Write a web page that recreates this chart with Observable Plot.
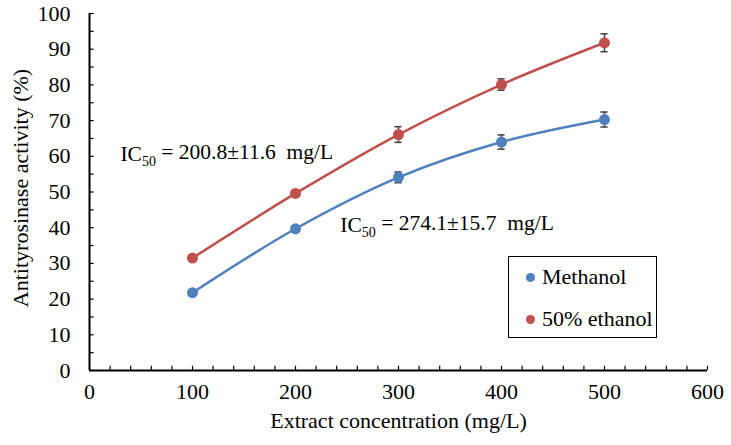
<!DOCTYPE html>
<html>
<head>
<meta charset="utf-8">
<script src="https://cdn.jsdelivr.net/npm/d3@7"></script>
<script src="https://cdn.jsdelivr.net/npm/@observablehq/plot@0.6"></script>
<style>
  html, body { margin: 0; padding: 0; background: #fff; }
  #wrap { position: relative; width: 731px; height: 445px; font-family: "Liberation Serif", "Times New Roman", serif; }
  #wrap svg text { font-family: "Liberation Serif", "Times New Roman", serif; }
  #legend { position: absolute; left: 508px; top: 256px; width: 149px; height: 82px; border: 1px solid #000; background: #fff; box-sizing: border-box; }
  .row { position: absolute; left: 17px; height: 24px; display: flex; align-items: center; font-size: 22px; color: #000; white-space: nowrap; font-family: "Liberation Serif", "Times New Roman", serif; }
  .sw { width: 9px; height: 9px; border-radius: 50%; margin-right: 7px; }
</style>
</head>
<body>
<div id="wrap"></div>
<script>
const concentrations = [100, 200, 300, 400, 500];
const methanol = [21.8, 39.7, 54.1, 64.0, 70.3];
const methanolErr = [0.5, 0.6, 1.5, 2.0, 2.1];
const ethanol = [31.5, 49.6, 66.1, 80.1, 91.8];
const ethanolErr = [0.5, 0.5, 2.2, 1.6, 2.5];
const seriesNames = ["Methanol", "50% ethanol"];
const seriesColors = ["#4f81bd", "#c0504d"];
const xTickLabels = [0, 100, 200, 300, 400, 500, 600];
const yTickLabels = [0, 10, 20, 30, 40, 50, 60, 70, 80, 90, 100];
const xMinorTicks = d3.range(0, 601, 20);
const yMinorTicks = d3.range(0, 101, 5);
const xLabel = "Extract concentration (mg/L)";
const yLabel = "Antityrosinase activity (%)";
const annotations = [
  {x: 30, y: 60.5, sub: "50", pre: "IC", post: " = 200.8±11.6  mg/L"},
  {x: 243.5, y: 40.6, sub: "50", pre: "IC", post: " = 274.1±15.7  mg/L"}
];

const data = [];
concentrations.forEach((c, i) => {
  data.push({series: seriesNames[0], x: c, y: methanol[i], e: methanolErr[i]});
  data.push({series: seriesNames[1], x: c, y: ethanol[i], e: ethanolErr[i]});
});

const font = "'Liberation Serif', 'Times New Roman', serif";
const capHalf = 3.5;

const chart = Plot.plot({
  width: 731,
  height: 445,
  marginLeft: 89,
  marginRight: 24,
  marginTop: 13,
  marginBottom: 75,
  style: {fontFamily: font, fontSize: "22px", color: "#000", background: "#fff"},
  x: {domain: [0, 600]},
  y: {domain: [0, 100]},
  color: {domain: seriesNames, range: seriesColors},
  marks: [
    Plot.axisX({ticks: xTickLabels, tickSize: 0, tickPadding: 13, fontSize: 22, fontFamily: font, label: null}),
    Plot.axisY({ticks: yTickLabels, tickSize: 0, tickPadding: 19, fontSize: 22, fontFamily: font, label: null}),
    Plot.ruleX(xMinorTicks, {x: d => d, y1: 0, y2: 1.2, stroke: "#000", strokeWidth: 1.2}),
    Plot.ruleY(yMinorTicks, {y: d => d, x1: 0, x2: 4.5, stroke: "#000", strokeWidth: 1.2}),
    Plot.ruleX([0], {stroke: "#000", strokeWidth: 2}),
    Plot.ruleY([0], {stroke: "#000", strokeWidth: 2}),
    Plot.line(data, {x: "x", y: "y", z: "series", stroke: "series", strokeWidth: 2.5, curve: "catmull-rom"}),
    Plot.ruleX(data, {x: "x", y1: d => d.y - d.e, y2: d => d.y + d.e, stroke: "#404040", strokeWidth: 1.5}),
    Plot.ruleY(data, {y: d => d.y + d.e, x1: d => d.x - capHalf, x2: d => d.x + capHalf, stroke: "#404040", strokeWidth: 1.5}),
    Plot.ruleY(data, {y: d => d.y - d.e, x1: d => d.x - capHalf, x2: d => d.x + capHalf, stroke: "#404040", strokeWidth: 1.5}),
    Plot.dot(data, {x: "x", y: "y", fill: "series", r: 5.5, stroke: null}),
    Plot.text(annotations, {x: "x", y: "y", text: d => d.pre + d.sub + d.post, textAnchor: "start", fontSize: 21.5, fontFamily: font, fill: "#000"}),
    Plot.text([yLabel], {frameAnchor: "left", dx: -69, dy: -4, rotate: -90, textAnchor: "middle", fontSize: 22, fontFamily: font, fill: "#000"}),
    Plot.text([xLabel], {frameAnchor: "bottom", dy: 57, textAnchor: "middle", fontSize: 22, fontFamily: font, fill: "#000"})
  ]
});

// Rebuild annotation texts with subscript
d3.select(chart).selectAll("text").each(function() {
  const t = this.textContent;
  const a = annotations.find(a => t === a.pre + a.sub + a.post);
  if (!a) return;
  const sel = d3.select(this).style("white-space", "pre").attr("xml:space", "preserve");
  sel.text(null);
  sel.append("tspan").text(a.pre);
  sel.append("tspan").attr("font-size", "14").attr("dy", "0.3em").text(a.sub);
  sel.append("tspan").attr("dy", "-0.3em").text(a.post);
});

const wrap = document.getElementById("wrap");
wrap.appendChild(chart);

const legend = document.createElement("div");
legend.id = "legend";
const rowTops = [8, 50];
seriesNames.forEach((name, i) => {
  const row = document.createElement("div");
  row.className = "row";
  row.style.top = rowTops[i] + "px";
  const sw = document.createElement("span");
  sw.className = "sw";
  sw.style.background = seriesColors[i];
  const lab = document.createElement("span");
  lab.textContent = name;
  row.appendChild(sw);
  row.appendChild(lab);
  legend.appendChild(row);
});
wrap.appendChild(legend);
</script>
</body>
</html>
